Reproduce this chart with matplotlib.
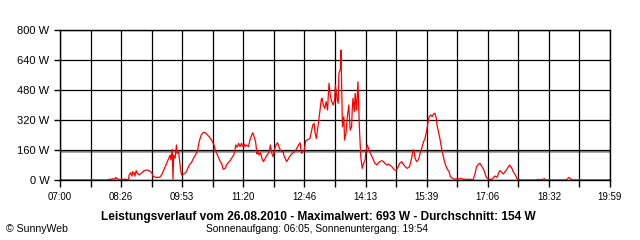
import matplotlib
matplotlib.use('Agg')
import matplotlib.pyplot as plt

plt.rcParams['font.family'] = ['Liberation Sans', 'DejaVu Sans']

# minutes after 07:00 and power in W
minutes = [0, 67, 70, 73, 75, 78, 79, 81, 83, 85, 89, 93, 97, 98, 100, 102, 103, 105, 106, 108,
           109, 112, 116, 119, 123, 126, 130, 132, 137, 141, 144, 147, 151, 154, 156, 157, 159, 160,
           161, 163, 165, 166, 168, 170, 172, 175, 178, 180, 183, 186, 189, 193, 195, 197, 200, 203,
           206, 209, 212, 216, 218, 220, 222, 224, 227, 229, 231, 234, 236, 238, 241, 243, 246, 248,
           249, 251, 253, 255, 257, 259, 261, 262, 264, 267, 269, 271, 273, 275, 277, 279, 280, 282,
           284, 286, 288, 290, 293, 295, 296, 298, 300, 302, 304, 306, 308, 310, 312, 314, 316, 317,
           319, 321, 323, 325, 327, 329, 331, 334, 338, 340, 342, 344, 346, 348, 352, 354, 356, 358,
           360, 361, 363, 364, 366, 368, 370, 371, 373, 375, 377, 379, 380, 381, 383, 385, 387, 389,
           390, 392, 394, 395, 397, 398, 399, 400, 402, 403, 405, 407, 409, 411, 413, 414, 415, 417,
           418, 420, 422, 424, 426, 428, 430, 432, 433, 435, 437, 439, 441, 444, 446, 449, 451, 453,
           456, 458, 460, 463, 465, 467, 470, 473, 476, 479, 481, 484, 486, 489, 492, 495, 498, 500,
           501, 503, 505, 508, 510, 513, 515, 517, 520, 522, 523, 525, 527, 529, 531, 533, 534, 536,
           538, 540, 542, 544, 546, 548, 551, 553, 556, 559, 562, 564, 567, 569, 571, 576, 581, 585,
           588, 590, 593, 595, 597, 600, 602, 604, 607, 612, 614, 616, 619, 621, 623, 626, 628, 630,
           633, 635, 637, 640, 642, 645, 647, 649, 652, 675, 677, 679, 684, 686, 688, 717, 718, 721,
           724, 725, 779]
watts = [0, 0, 4, 4, 7, 4, 14, 7, 4, 0, 4, 4, 0, 27, 39, 21, 44, 39, 21, 50,
         39, 27, 39, 50, 53, 50, 39, 18, 14, 14, 27, 53, 89, 116, 133, 107, 164, 4,
         133, 116, 187, 142, 151, 80, 27, 32, 39, 53, 80, 92, 116, 142, 160, 204, 240, 254,
         252, 240, 228, 204, 187, 160, 142, 124, 98, 89, 57, 62, 80, 92, 103, 116, 133, 164,
         187, 175, 196, 178, 196, 178, 192, 178, 187, 178, 213, 235, 252, 231, 204, 139, 151, 133,
         146, 116, 98, 110, 133, 142, 146, 187, 142, 124, 165, 187, 199, 178, 160, 151, 151, 133,
         116, 98, 110, 124, 133, 142, 146, 160, 187, 199, 142, 151, 160, 210, 217, 222, 258, 293,
         302, 258, 222, 249, 302, 364, 427, 436, 400, 382, 418, 373, 453, 516, 444, 418, 400, 427,
         507, 444, 409, 569, 590, 693, 498, 284, 338, 213, 249, 338, 400, 266, 284, 382, 436, 364,
         462, 373, 524, 284, 124, 62, 89, 103, 142, 187, 169, 146, 133, 107, 89, 80, 92, 98,
         103, 98, 89, 80, 85, 80, 71, 57, 50, 71, 89, 98, 85, 71, 62, 71, 116, 160,
         160, 116, 98, 110, 142, 178, 205, 222, 276, 329, 338, 347, 338, 352, 356, 329, 293, 258,
         222, 178, 142, 107, 80, 62, 44, 18, 9, 4, 7, 4, 9, 7, 4, 4, 4, 0,
         36, 71, 85, 89, 75, 57, 36, 14, 4, 4, 14, 21, 14, 36, 50, 39, 32, 44,
         57, 71, 80, 62, 44, 27, 9, 4, 0, 0, 4, 0, 4, 7, 0, 0, 4, 14,
         4, 0, 0]

average = 154
y_ticks = [0, 160, 320, 480, 640, 800]
x_labels = ['07:00', '08:26', '09:53', '11:20', '12:46', '14:13', '15:39', '17:06', '18:32', '19:59']
day_length = 779  # 07:00 .. 19:59 in minutes

fig = plt.figure(figsize=(6.4, 2.4), dpi=100)
ax = fig.add_axes([60 / 640, 60 / 240, 550 / 640, 150 / 240])

ax.plot(minutes, watts, color='#ff0000', lw=0.9, zorder=2)
# average line sits just under the 160 W gridline
ax.axhline(average, color='#8c8c8c', lw=1.8, zorder=0.3)

x_ticks = [day_length * i / 18 for i in range(19)]
tick_labels = []
for i in range(19):
    tick_labels.append(x_labels[i // 2] if i % 2 == 0 else '')
ax.set_xticks(x_ticks)
ax.set_xticklabels(tick_labels)
ax.set_yticks(y_ticks)
ax.set_yticklabels([f'{v} W' for v in y_ticks])
ax.set_xlim(0, day_length)
ax.set_ylim(0, 800)

ax.grid(True, color='black', lw=0.9, zorder=0.5)
ax.set_axisbelow(True)
for s in ax.spines.values():
    s.set_color('black')
    s.set_linewidth(1.0)
    s.set_zorder(2.5)
ax.tick_params(axis='x', direction='out', length=5, width=1, pad=4, labelsize=7)
ax.tick_params(axis='y', direction='out', length=4.5, width=1, pad=3, labelsize=8)

fig.text(0.498, 0.096, 'Leistungsverlauf vom 26.08.2010 - Maximalwert: 693 W - Durchschnitt: 154 W',
         ha='center', va='center', fontsize=8.6, fontweight='bold')
fig.text(0.495, 0.046, 'Sonnenaufgang: 06:05, Sonnenuntergang: 19:54',
         ha='center', va='center', fontsize=7.4)
fig.text(0.01, 0.046, '\u00a9 SunnyWeb', ha='left', va='center', fontsize=7.6)

fig.savefig('out.png', dpi=100)
